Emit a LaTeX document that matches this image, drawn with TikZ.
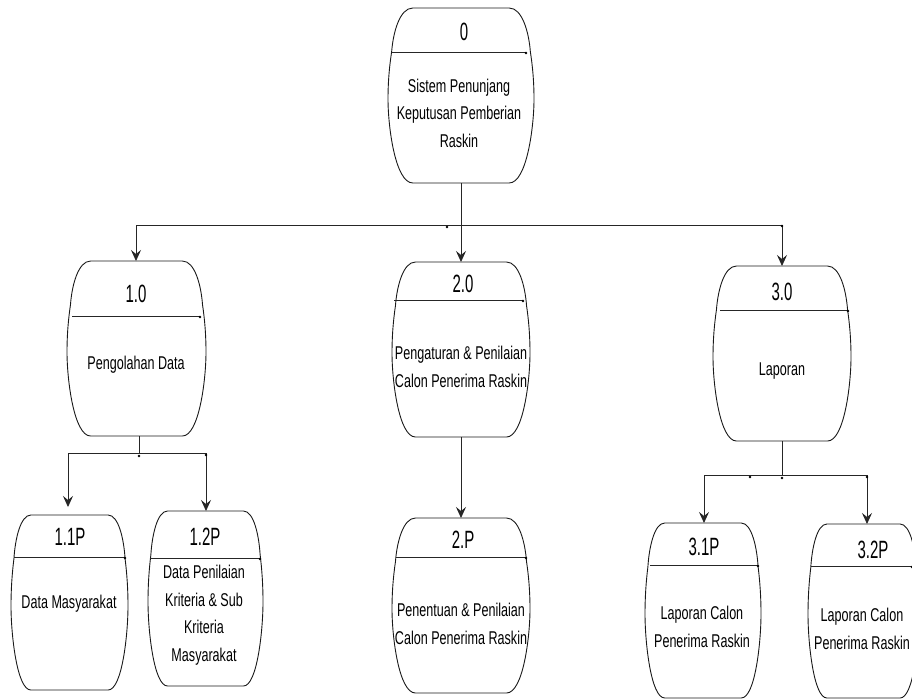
\documentclass[tikz,border=0pt]{standalone}
\usepackage{fontspec}
\setmainfont{Liberation Sans}
\newfontfamily\bodyf[FakeStretch=0.68]{Liberation Sans}
\newfontfamily\headf[FakeStretch=0.6]{Liberation Sans}
\usetikzlibrary{arrows.meta}
\tikzset{
  x=1pt,y=-1pt,
  frame/.style={inner sep=0pt,outer sep=0pt,draw=none},
  barrelline/.style={draw=black!90,line width=0.9pt},
  body/.style={align=center,font=\bodyf\fontsize{18.5}{27.5}\selectfont,inner sep=0pt},
  head/.style={font=\headf\fontsize{25}{27}\selectfont,inner sep=0pt},
  link/.style={draw=black!85,line width=0.9pt},
  arrowlink/.style={link,-{Stealth[length=11pt,width=10pt,inset=4pt]}},
  dot/.style={circle,fill=black,inner sep=0pt,minimum size=2.8pt}
}
% name, x1, y1, x2, y2, divider y, divider x1, divider x2
\newcommand{\barrelbox}[8]{%
  \node[frame,minimum width=#4pt-#2pt,minimum height=#5pt-#3pt] (#1) at ({(#2+#4)/2},{(#3+#5)/2}) {};
  \draw[barrelline]
    ({#2+0.17*(#4-#2)},#3) -- ({#2+0.83*(#4-#2)},#3)
    .. controls ({#2+0.92*(#4-#2)},#3) and ({#2+0.965*(#4-#2)},{#3+0.14*(#5-#3)}) .. ({#2+0.975*(#4-#2)},{#3+0.25*(#5-#3)})
    .. controls ({#2+0.99*(#4-#2)},{#3+0.33*(#5-#3)}) and (#4,{#3+0.42*(#5-#3)}) .. (#4,{#3+0.52*(#5-#3)})
    .. controls (#4,{#3+0.68*(#5-#3)}) and ({#2+0.95*(#4-#2)},#5) .. ({#2+0.83*(#4-#2)},#5)
    -- ({#2+0.17*(#4-#2)},#5)
    .. controls ({#2+0.05*(#4-#2)},#5) and (#2,{#3+0.68*(#5-#3)}) .. (#2,{#3+0.52*(#5-#3)})
    .. controls (#2,{#3+0.42*(#5-#3)}) and ({#2+0.01*(#4-#2)},{#3+0.33*(#5-#3)}) .. ({#2+0.025*(#4-#2)},{#3+0.25*(#5-#3)})
    .. controls ({#2+0.035*(#4-#2)},{#3+0.14*(#5-#3)}) and ({#2+0.08*(#4-#2)},#3) .. ({#2+0.17*(#4-#2)},#3)
    -- cycle;
  \draw[link] (#7,#6) -- (#8,#6);
  \node[dot] at (#8,#6+1) {};
}
\begin{document}
\begin{tikzpicture}
\useasboundingbox (0,0) rectangle (912,699);
\begin{scope}
\clip (0,0) rectangle (912,699);
\barrelbox{n0}{388}{8}{534}{183}{52}{392}{526}
\barrelbox{n1}{67}{261}{206}{436}{316}{72}{200}
\barrelbox{n2}{392}{262}{530}{437}{300}{394}{523}
\barrelbox{n3}{713}{266}{851}{441}{310}{720}{848}
\barrelbox{n11}{11}{515}{128}{690}{557}{14}{125}
\barrelbox{n12}{148}{511}{263}{686}{558}{150}{260}
\barrelbox{n2p}{392}{518}{530}{693}{557}{396}{526}
\barrelbox{n31}{645}{523}{761}{698}{565}{650}{758}
\barrelbox{n32}{808}{524}{919}{698}{566}{811}{912}
\end{scope}
% titles
\node[head] (t0) at (464,32) {0};
\node[head] (t1) at (136,294) {1.0};
\node[head] (t2) at (463,284) {2.0};
\node[head] (t3) at (782,292) {3.0};
\node[head] (t11) at (70,537) {1.1P};
\node[head] (t12) at (205,537) {1.2P};
\node[head] (t2p) at (463,540) {2.P};
\node[head] (t31) at (704,547) {3.1P};
\node[head] (t32) at (873,550) {3.2P};
% bodies
\node[body] (b0t) at (459,113) {Sistem Penunjang\\Keputusan Pemberian\\Raskin};
\node[body] (b1t) at (136,365) {Pengolahan Data};
\node[body] (b2t) at (461,367) {Pengaturan \& Penilaian\\Calon Penerima Raskin};
\node[body] (b3t) at (782,371) {Laporan};
\node[body] (b11t) at (69,604) {Data Masyarakat};
\node[body] (b12t) at (204,615) {Data Penilaian\\Kriteria \& Sub\\Kriteria\\Masyarakat};
\node[body] (b2pt) at (461,624) {Penentuan \& Penilaian\\Calon Penerima Raskin};
\node[body] (b31t) at (702,627) {Laporan Calon\\Penerima Raskin};
\node[body] (b32t) at (862,629) {Laporan Calon\\Penerima Raskin};
% bus coordinates
\coordinate (b0) at (461,225);
\coordinate (b0l) at (136,225);
\coordinate (b0r) at (782,225);
\coordinate (b1) at (139,453);
\coordinate (b1l) at (68,453);
\coordinate (b1r) at (206,453);
\coordinate (b3) at (782,475);
\coordinate (b3l) at (704,475);
\coordinate (b3r) at (867,475);
\coordinate (tip11) at (68,507);
\draw[link] (n0.south -| b0) -- (b0);
\draw[link] (b0l) -- (b0r);
\draw[arrowlink] (b0l) -- (b0l |- n1.north);
\draw[arrowlink] (b0) -- (b0 |- n2.north);
\draw[arrowlink] (b0r) -- (b0r |- n3.north);
\draw[link] (b1 |- n1.south) -- (b1);
\draw[link] (b1l) -- (b1r);
\draw[arrowlink] (b1l) -- (tip11);
\draw[arrowlink] (b1r) -- (b1r |- n12.north);
\draw[arrowlink] (b0 |- n2.south) -- (b0 |- n2p.north);
\draw[link] (b3 |- n3.south) -- (b3);
\draw[link] (b3l) -- (b3r);
\draw[arrowlink] (b3l) -- (b3l |- n31.north);
\draw[arrowlink] (b3r) -- (b3r |- n32.north);
\node[dot] (d1) at (447,227) {};
\node[dot] (d2) at (782,226) {};
\node[dot] (d3) at (139,456) {};
\node[dot] (d4) at (206,455) {};
\node[dot] (d5) at (750,477) {};
\node[dot] (d6) at (782,478) {};
\node[dot] (d7) at (867,477) {};
\end{tikzpicture}
\end{document}
